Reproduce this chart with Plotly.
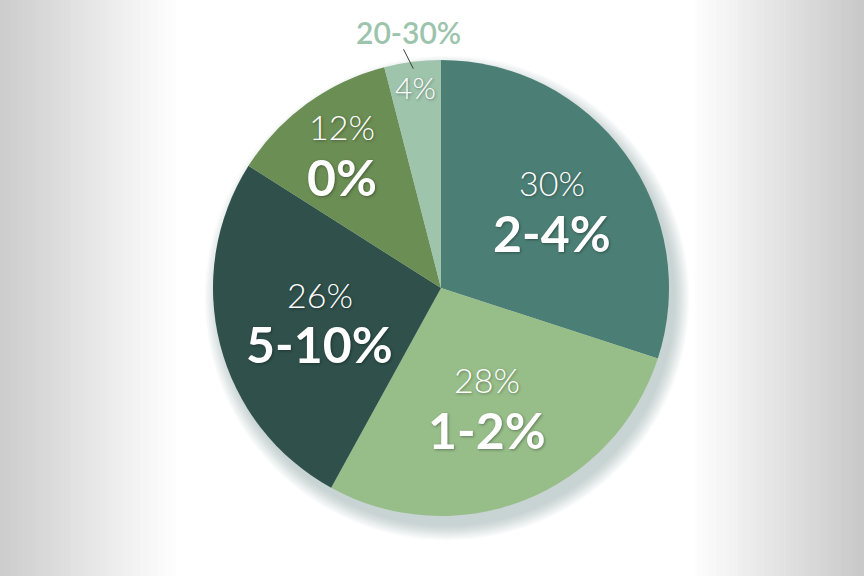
import math
import plotly.graph_objects as go

# slice data, clockwise from 12 o'clock
labels = ["2-4%", "1-2%", "5-10%", "0%", "20-30%"]
shares = [30, 28, 26, 12, 4]
colors = ["#4b7f75", "#97be89", "#2f504b", "#6b8e54", "#9ec4ac"]

W, H = 864, 576
CX, CY, R = 441, 288, 228   # pie centre / radius in pixels

def px(x):
    return x / W

def py(y):
    return 1 - y / H

fig = go.Figure()
fig.add_trace(go.Pie(
    labels=labels,
    values=shares,
    sort=False,
    direction="clockwise",
    rotation=0,
    marker=dict(colors=colors, line=dict(width=0)),
    textinfo="none",
    hoverinfo="label+percent",
    showlegend=False,
    domain=dict(x=[px(CX - R), px(CX + R)], y=[py(CY + R), py(CY - R)]),
))

# --- background: white centre, grey edges ---
shapes = []
n = 40
for i in range(n):
    t = i / n
    g = int(205 + (255 - 205) * t)
    shapes.append(dict(type="rect", xref="paper", yref="paper", layer="below",
                       x0=px(175 * t), x1=px(175 * (i + 1) / n) + 0.001, y0=0, y1=1,
                       fillcolor=f"rgb({g},{g},{g})", line=dict(width=0)))
    g = int(255 - (255 - 200) * t)
    shapes.append(dict(type="rect", xref="paper", yref="paper", layer="below",
                       x0=px(690 + 174 * t), x1=px(690 + 174 * (i + 1) / n) + 0.001, y0=0, y1=1,
                       fillcolor=f"rgb({g},{g},{g})", line=dict(width=0)))

# soft shadow behind the pie, mostly lower right
for k in range(12):
    r = R + k * 1.3
    ox, oy = 6, 10
    shapes.append(dict(type="circle", xref="paper", yref="paper", layer="below",
                       x0=px(CX + ox - r), x1=px(CX + ox + r),
                       y0=py(CY + oy + r), y1=py(CY + oy - r),
                       fillcolor="rgba(95,125,130,0.03)", line=dict(width=0)))

# --- labels placed along each slice's mid angle ---
rfac = [0.60, 0.55, 0.55, 0.74, 0.89]
shadow = "1px 1px 3px rgba(0,0,0,0.35)"
annotations = []
cum = 0
for lab, v, rf in zip(labels, shares, rfac):
    th = math.radians((cum + v / 2) / 100 * 360)
    cum += v
    x = CX + rf * R * math.sin(th)
    y = CY - rf * R * math.cos(th)
    base = dict(xref="paper", yref="paper", xanchor="center", yanchor="middle",
                showarrow=False)
    if v < 5:
        annotations.append(dict(base, x=px(x), y=py(y), text=f"{v}%",
                                font=dict(family="Lato", size=30, color="white", weight=300,
                                          shadow=shadow)))
        xo = CX + 1.13 * R * math.sin(th)
        yo = CY - 1.13 * R * math.cos(th)
        annotations.append(dict(base, x=px(xo), y=py(yo), text=lab,
                                font=dict(family="Lato", size=30, color="#9cc4ad", weight=600)))
        shapes.append(dict(type="line", xref="paper", yref="paper",
                           x0=px(CX + 1.06 * R * math.sin(th - 0.03)),
                           y0=py(CY - 1.06 * R * math.cos(th - 0.03)),
                           x1=px(CX + 0.97 * R * math.sin(th)),
                           y1=py(CY - 0.97 * R * math.cos(th)),
                           line=dict(color="#3a3a3a", width=1)))
        continue
    annotations.append(dict(base, x=px(x), y=py(y), yshift=25, text=f"{v}%",
                            font=dict(family="Lato", size=34, color="white", weight=300,
                                      shadow=shadow)))
    annotations.append(dict(base, x=px(x), y=py(y), yshift=-25, text=lab,
                            font=dict(family="Lato", size=50, color="white", weight=700,
                                      shadow=shadow)))

fig.update_layout(
    width=W, height=H,
    margin=dict(l=0, r=0, t=0, b=0),
    paper_bgcolor="white",
    plot_bgcolor="white",
    shapes=shapes,
    annotations=annotations,
)

fig.write_html("out.html", config={"displayModeBar": False},
               post_script="document.body.style.margin='0';document.body.style.overflow='hidden';")
